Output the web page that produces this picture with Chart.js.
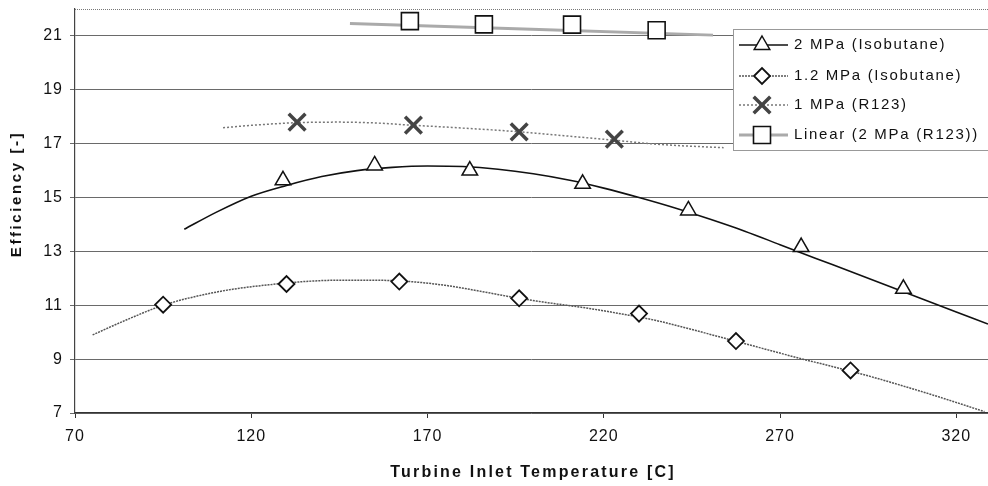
<!DOCTYPE html>
<html>
<head>
<meta charset="utf-8">
<script src="https://cdn.jsdelivr.net/npm/chart.js@4.4.1/dist/chart.umd.min.js"></script>
<style>
body{margin:0;background:#fff;overflow:hidden}
canvas{display:block}
</style>
</head>
<body>
<canvas id="effChart" width="988" height="486"></canvas>
<script>
// measured points
let triX = [129, 155, 182, 214, 244, 276, 305]
let triY = [15.64, 16.19, 16.0, 15.51, 14.52, 13.16, 11.61]

let diaX = [95, 130, 162, 196, 230, 257.5, 290]
let diaY = [11.02, 11.79, 11.88, 11.26, 10.69, 9.67, 8.58]

let crossX = [133, 166, 196, 223]
let crossY = [17.8, 17.69, 17.44, 17.17]

let sqX = [165, 186, 211, 235]
let sqY = [21.55, 21.43, 21.42, 21.21]

// trendlines
let trend2X = [101,110,120,130,140,150,160,170,180,190,200,210,220,230,240,250,260,270,280,290,300,310,320,329]
let trend2Y = [13.82,14.45,15.05,15.45,15.78,16.0,16.12,16.17,16.15,16.05,15.88,15.65,15.35,15.0,14.62,14.2,13.75,13.25,12.75,12.25,11.75,11.25,10.75,10.3]

let trend12X = [75,85,95,105,115,125,135,145,155,165,175,185,195,205,215,225,235,245,255,265,275,285,295,305,315,328]
let trend12Y = [9.9,10.48,11.0,11.35,11.6,11.76,11.88,11.93,11.93,11.88,11.74,11.52,11.28,11.08,10.9,10.68,10.43,10.1,9.75,9.4,9.05,8.72,8.38,8.0,7.6,7.05]

let trendCrossX = [112,120,133,145,155,165,180,196,210,222,236,254]
let trendCrossY = [17.59,17.68,17.78,17.8,17.77,17.69,17.58,17.44,17.28,17.14,16.97,16.85]

let linSqX = [148, 251]
let linSqY = [21.46, 21.03]

let xTicks = [70, 120, 170, 220, 270, 320]
let yTicks = [7, 9, 11, 13, 15, 17, 19, 21]

let legendLabels = ["2 MPa (Isobutane)", "1.2 MPa (Isobutane)", "1 MPa (R123)", "Linear (2 MPa (R123))"]

function pts(xs, ys){
  return xs.map((x,i)=>({x:x, y:ys[i]}))
}

function marker(ctx, style, x, y){
  ctx.save()
  ctx.setLineDash([])
  ctx.beginPath()
  if(style=="triangle"){
    let r = 9
    ctx.moveTo(x, y-r)
    ctx.lineTo(x+r*0.866, y+r/2)
    ctx.lineTo(x-r*0.866, y+r/2)
    ctx.closePath()
    ctx.fillStyle="#fff"; ctx.fill()
    ctx.strokeStyle="#111"; ctx.lineWidth=1.5; ctx.stroke()
  } else if(style=="diamond"){
    let r = 8
    ctx.moveTo(x-r, y); ctx.lineTo(x, y-r); ctx.lineTo(x+r, y); ctx.lineTo(x, y+r)
    ctx.closePath()
    ctx.fillStyle="#fff"; ctx.fill()
    ctx.strokeStyle="#111"; ctx.lineWidth=1.8; ctx.stroke()
  } else if(style=="cross"){
    let r = 8.3
    ctx.moveTo(x-r, y-r); ctx.lineTo(x+r, y+r)
    ctx.moveTo(x+r, y-r); ctx.lineTo(x-r, y+r)
    ctx.strokeStyle="#444"; ctx.lineWidth=3.5; ctx.stroke()
  } else {
    let r = 8.5
    ctx.rect(x-r, y-r, 2*r, 2*r)
    ctx.fillStyle="#fff"; ctx.fill()
    ctx.strokeStyle="#111"; ctx.lineWidth=1.6; ctx.stroke()
  }
  ctx.restore()
}

let legendLines = [
  {color:"#111", width:1.6, dash:[]},
  {color:"#555", width:1.5, dash:[2,1]},
  {color:"#777", width:1.5, dash:[2,2]},
  {color:"#aaa", width:3, dash:[]}
]
let legendMarks = ["triangle", "diamond", "cross", "square"]

const extras = {
  id:"extras",
  beforeLayout(c){ c.ctx.letterSpacing = "1px" },
  beforeDraw(c){
    let ctx = c.ctx
    ctx.save()
    ctx.fillStyle = "#fff"
    ctx.fillRect(0, 0, c.width, c.height)
    ctx.restore()
    ctx.letterSpacing = "1px"
  },
  afterDraw(c){
    let ctx = c.ctx
    let a = c.chartArea
    ctx.save()
    // dotted top border
    ctx.strokeStyle = "#777"
    ctx.lineWidth = 1
    ctx.setLineDash([1,1])
    ctx.beginPath()
    ctx.moveTo(a.left, a.top + 0.5)
    ctx.lineTo(a.right, a.top + 0.5)
    ctx.stroke()
    ctx.setLineDash([])

    // axis titles
    ctx.fillStyle = "#111"
    ctx.textBaseline = "middle"
    ctx.textAlign = "center"
    ctx.font = "bold 16px 'Liberation Sans', Arial, sans-serif"
    ctx.letterSpacing = "2.2px"
    ctx.fillText("Turbine Inlet Temperature [C]", 533, 473)

    ctx.save()
    ctx.translate(17, 194)
    ctx.rotate(-Math.PI/2)
    ctx.font = "bold 15px 'Liberation Sans', Arial, sans-serif"
    ctx.letterSpacing = "2.6px"
    ctx.fillText("Efficiency [-]", 0, 0)
    ctx.restore()

    // legend box
    ctx.fillStyle = "#fff"
    ctx.fillRect(733, 29, 260, 122)
    ctx.strokeStyle = "#999"
    ctx.lineWidth = 1
    ctx.strokeRect(733.5, 29.5, 260, 121)

    let rows = [45, 76, 105, 135]
    ctx.font = "15px 'Liberation Sans', Arial, sans-serif"
    ctx.letterSpacing = "1.7px"
    ctx.textAlign = "left"
    for(let i=0;i<legendLabels.length;i++){
      let y = rows[i]
      let l = legendLines[i]
      ctx.strokeStyle = l.color
      ctx.lineWidth = l.width
      ctx.setLineDash(l.dash)
      ctx.beginPath()
      ctx.moveTo(739, y)
      ctx.lineTo(788, y)
      ctx.stroke()
      ctx.setLineDash([])
      marker(ctx, legendMarks[i], 762, y)
      ctx.fillStyle = "#111"
      ctx.fillText(legendLabels[i], 794, y)
    }
    ctx.restore()
  }
}

function markerSet(label, data, style, radius, border, bw, fill){
  return {
    label:label,
    data:data,
    showLine:false,
    pointStyle:style,
    pointRadius:radius,
    pointHoverRadius:radius,
    pointBorderColor:border,
    pointBackgroundColor:fill,
    pointBorderWidth:bw,
    borderColor:border,
    backgroundColor:fill
  }
}

function trendSet(label, data, color, width, dash){
  return {
    label:label,
    data:data,
    showLine:true,
    pointRadius:0,
    borderColor:color,
    borderWidth:width,
    borderDash:dash,
    cubicInterpolationMode:"monotone",
    fill:false
  }
}

new Chart(document.getElementById("effChart"),{
  type:"scatter",
  data:{
    datasets:[
      markerSet("2 MPa (Isobutane)", pts(triX, triY), "triangle", 9, "#111", 1.5, "#fff"),
      markerSet("1.2 MPa (Isobutane)", pts(diaX, diaY), "rectRot", 8, "#111", 1.8, "#fff"),
      markerSet("1 MPa (R123)", pts(crossX, crossY), "crossRot", 11.8, "#444", 3.5, "#444"),
      markerSet("2 MPa (R123)", pts(sqX, sqY), "rect", 12, "#111", 1.6, "#fff"),
      trendSet("trend 2 MPa", pts(trend2X, trend2Y), "#111", 1.6, []),
      trendSet("trend 1.2 MPa", pts(trend12X, trend12Y), "#555", 1.5, [2,1]),
      trendSet("trend 1 MPa", pts(trendCrossX, trendCrossY), "#777", 1.5, [2,2]),
      trendSet("Linear (2 MPa (R123))", pts(linSqX, linSqY), "#aaa", 3, [])
    ]
  },
  options:{
    responsive:false,
    animation:false,
    devicePixelRatio:1,
    layout:{autoPadding:false, padding:{top:9, right:0, left:0, bottom:0}},
    plugins:{legend:{display:false}, tooltip:{enabled:false}},
    scales:{
      x:{
        type:"linear",
        min:70,
        max:329,
        afterBuildTicks:s=>{ s.ticks = xTicks.map(v=>({value:v})) },
        afterFit:s=>{ s.height = 73; s.paddingLeft = 0; s.paddingRight = 0 },
        grid:{drawOnChartArea:false, drawTicks:true, tickLength:5, color:"#333", lineWidth:1},
        border:{color:"#333", width:1.2},
        ticks:{color:"#111", padding:9, maxRotation:0, autoSkip:false,
          font:{family:"'Liberation Sans', Arial, sans-serif", size:16}}
      },
      y:{
        type:"linear",
        min:7,
        max:22,
        afterBuildTicks:s=>{ s.ticks = yTicks.map(v=>({value:v})) },
        afterFit:s=>{ s.width = 75; s.paddingTop = 0; s.paddingBottom = 0 },
        grid:{color:"#6a6a6a", lineWidth:1, tickLength:5},
        border:{color:"#444", width:1.2},
        ticks:{color:"#111", padding:7,
          font:{family:"'Liberation Sans', Arial, sans-serif", size:16}}
      }
    }
  },
  plugins:[extras]
})
</script>
</body>
</html>
